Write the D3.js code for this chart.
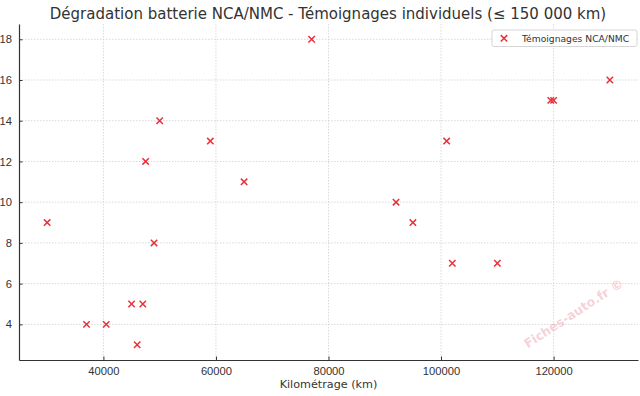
<!DOCTYPE html>
<html>
<head>
<meta charset="utf-8">
<script src="https://cdn.jsdelivr.net/npm/d3@7"></script>
<style>
  body { margin: 0; background: #fff; }
  svg { display: block; font-family: "DejaVu Sans", sans-serif; }
  .grid line { stroke: #cfcfcf; stroke-dasharray: 1.5,1.5; stroke-width: 0.8; }
  .axis path, .axis line { stroke: #333; }
  .axis text { fill: #333; font-size: 11.2px; }
</style>
</head>
<body>
<svg id="chart" width="640" height="396"></svg>
<script>
"use strict";

// Kilométrage (km) et dégradation (%)
var kms = [30000, 37000, 40500, 45000, 46000, 47000, 47500, 49000, 50000, 59000,
           65000, 77000, 92000, 95000, 101000, 102000, 110000, 119500, 120000, 130000];
var degradation = [9, 4, 4, 5, 3, 5, 12, 8, 14, 13,
                   11, 18, 10, 9, 13, 7, 7, 15, 15, 16];
var xTicks = [40000, 60000, 80000, 100000, 120000];
var yTicks = [4, 6, 8, 10, 12, 14, 16, 18];
var seriesName = "Témoignages NCA/NMC";

var data = kms.map(function(k, i) { return {km: k, deg: degradation[i]}; });

var svg = d3.select("#chart"),
    margin = {top: 24, right: 2, bottom: 36, left: 19},
    width = +svg.attr("width") - margin.left - margin.right,
    height = +svg.attr("height") - margin.top - margin.bottom,
    g = svg.append("g").attr("transform", "translate(" + margin.left + "," + margin.top + ")");

// matplotlib style : 5% de marge autour des données
var xMin = d3.min(kms), xMax = d3.max(kms), xPad = (xMax - xMin) * 0.05;
var yMin = d3.min(degradation), yMax = d3.max(degradation), yPad = (yMax - yMin) * 0.05;

var x = d3.scaleLinear().domain([xMin - xPad, xMax + xPad]).range([0, width]);
var y = d3.scaleLinear().domain([yMin - yPad, yMax + yPad]).range([height, 0]);

// grille
g.append("g").attr("class", "grid")
  .selectAll("line").data(xTicks).enter().append("line")
    .attr("x1", function(d) { return x(d); })
    .attr("x2", function(d) { return x(d); })
    .attr("y1", 0).attr("y2", height);
g.append("g").attr("class", "grid")
  .selectAll("line").data(yTicks).enter().append("line")
    .attr("y1", function(d) { return y(d); })
    .attr("y2", function(d) { return y(d); })
    .attr("x1", 0).attr("x2", width);

// axes
var xAxis = g.append("g")
    .attr("class", "axis")
    .attr("transform", "translate(0," + height + ")")
    .call(d3.axisBottom(x).tickValues(xTicks).tickFormat(d3.format("d"))
      .tickSizeInner(-3.5).tickSizeOuter(0).tickPadding(7));
xAxis.select(".domain").attr("stroke-width", 1.2);

var yAxis = g.append("g")
    .attr("class", "axis")
    .call(d3.axisLeft(y).tickValues(yTicks).tickFormat(d3.format("d"))
      .tickSizeInner(-3.5).tickSizeOuter(0).tickPadding(7));
yAxis.select(".domain").attr("stroke-width", 1.2);

// titre et libellé d'axe
svg.append("text")
    .attr("x", 328)
    .attr("y", 19)
    .attr("text-anchor", "middle")
    .attr("fill", "#333")
    .style("font-size", "15px")
    .text("Dégradation batterie NCA/NMC - Témoignages individuels (≤ 150 000 km)");

svg.append("text")
    .attr("x", margin.left + width / 2)
    .attr("y", 388)
    .attr("text-anchor", "middle")
    .attr("fill", "#333")
    .style("font-size", "11.2px")
    .text("Kilométrage (km)");

// filigrane
svg.append("text")
    .attr("transform", "translate(576,317) rotate(-33)")
    .attr("text-anchor", "middle")
    .attr("fill", "#e87a8c")
    .attr("fill-opacity", 0.35)
    .style("font-size", "12.5px")
    .style("font-weight", "bold")
    .text("Fiches-auto.fr ©");

// points (croix)
var s = 3.2;
function cross(d) {
  var cx = x(d.km), cy = y(d.deg);
  return "M" + (cx - s) + "," + (cy - s) + "L" + (cx + s) + "," + (cy + s) +
         "M" + (cx - s) + "," + (cy + s) + "L" + (cx + s) + "," + (cy - s);
}
g.append("g").selectAll("path")
    .data(data)
  .enter().append("path")
    .attr("d", cross)
    .attr("stroke", "#e8303a")
    .attr("stroke-width", 1.5)
    .attr("fill", "none");

// légende
var legend = svg.append("g").attr("transform", "translate(492,30)");
legend.append("rect")
    .attr("width", 145).attr("height", 16.5).attr("rx", 2)
    .attr("fill", "#fff").attr("fill-opacity", 0.85)
    .attr("stroke", "#ccc").attr("stroke-width", 0.8);
legend.append("path")
    .attr("d", "M" + (12 - s) + "," + (8.3 - s) + "L" + (12 + s) + "," + (8.3 + s) +
               "M" + (12 - s) + "," + (8.3 + s) + "L" + (12 + s) + "," + (8.3 - s))
    .attr("stroke", "#e8303a").attr("stroke-width", 1.5);
legend.append("text")
    .attr("x", 30).attr("y", 12)
    .attr("fill", "#333")
    .style("font-size", "9.2px")
    .text(seriesName);
</script>
</body>
</html>
